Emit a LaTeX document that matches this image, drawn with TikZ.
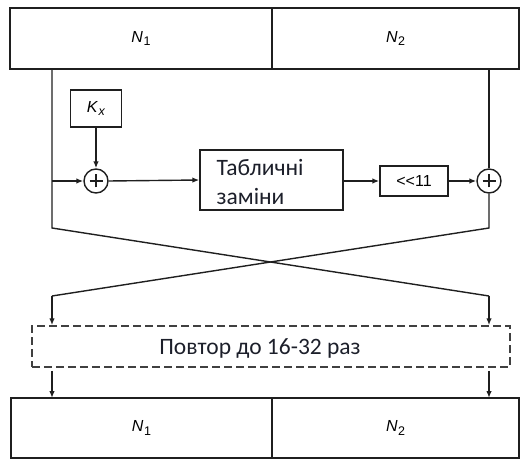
\documentclass[tikz,border=0pt]{standalone}
\usepackage{fontspec}
\setmainfont{Liberation Sans}
\newfontfamily\calib{Carlito}
\usetikzlibrary{arrows.meta}
\definecolor{txtblue}{HTML}{1C1F2A}
\tikzset{
  ln/.style={line width=1.4bp, draw=black!88},
  arr/.style={ln, -{Latex[length=7bp,width=5.5bp]}},
  box/.style={draw=black!88, line width=1.4bp, rectangle, inner sep=0pt},
  xorc/.style={draw=black!88, line width=1.4bp, circle, minimum size=24bp, inner sep=0pt,
    path picture={\draw[line width=1.8bp] ([xshift=-6.5bp]path picture bounding box.center) -- ([xshift=6.5bp]path picture bounding box.center);
                  \draw[line width=1.8bp] ([yshift=-6.5bp]path picture bounding box.center) -- ([yshift=6.5bp]path picture bounding box.center);}},
  lab/.style={font=\fontsize{16bp}{18bp}\selectfont},
  cal/.style={font=\calib\fontsize{23.5bp}{28bp}\selectfont, text=txtblue, inner sep=0pt}
}
\newcommand{\idx}[2]{\textit{#1}\kern0.5bp\raisebox{-3.4bp}{\fontsize{12.5bp}{14bp}\selectfont #2}}
\begin{document}
\begin{tikzpicture}[x=1bp,y=-1bp]
\useasboundingbox (0,0) rectangle (520,459);
% top block
\node[box, minimum width=262bp, minimum height=61bp, lab] (t1) at (141,38.5) {\idx{N}{1}};
\node[box, minimum width=247bp, minimum height=61bp, lab] (t2) at (395.5,38.5) {\idx{N}{2}};
% processing elements
\node[box, minimum width=51bp, minimum height=37bp, lab] (kx) at (96,108.5) {\idx{K}{\textit{x}}};
\node[xorc] (p1) at (96,181) {};
\node[box, minimum width=143bp, minimum height=60bp] (tab) at (271.5,180) {};
\node[cal, anchor=base west] (tabl1) at (216.5,176) {Табличні};
\node[cal, anchor=base west] (tabl2) at (216.5,205) {заміни};
\node[box, minimum width=68bp, minimum height=30bp, font=\fontsize{16bp}{18bp}\selectfont] (shl) at (414,181) {<\kern0pt<\kern0pt11};
\node[xorc] (p2) at (489,181) {};
% repeat box
\node[draw=black!75, line width=1.5bp, dash pattern=on 8bp off 4bp, rectangle, minimum width=478bp, minimum height=41bp,
      cal] (rep) at (271,346.5) {};
\node[cal, anchor=base] (rept) at (260,354) {Повтор до 16-32 раз};
% bottom block
\node[box, minimum width=261bp, minimum height=60bp, lab] (b1) at (141.5,428) {\idx{N}{1}};
\node[box, minimum width=247bp, minimum height=60bp, lab] (b2) at (395.5,428) {\idx{N}{2}};
% coordinates
\coordinate (lt) at (52,69.5);
\coordinate (lx) at (52,181);
\coordinate (lc) at (52,228);
\coordinate (rc) at (489,228);
\coordinate (ld) at (52,296);
\coordinate (rd) at (489,296);
\coordinate (rt) at (489,69.5);
% connectors
\draw[ln] (lt) -- (lx) -- (lc) -- (rd);
\draw[arr] (rd) -- (rd |- rep.north);
\draw[ln] (rt) -- (p2.north);
\draw[ln] (p2.south) -- (rc) -- (ld);
\draw[arr] (ld) -- (ld |- rep.north);
\draw[arr] (lx) -- (p1.west);
\draw[arr] (kx.south) -- (p1.north);
\draw[arr] (p1.east) -- (tab.west);
\draw[arr] (tab.east |- p1) -- (shl.west);
\draw[arr] (shl.east) -- (p2.west);
\draw[arr] (rep.south -| ld) ++(0,3) -- (52,398);
\draw[arr] (rep.south -| rd) ++(0,3) -- (489,398);
\end{tikzpicture}
\end{document}
